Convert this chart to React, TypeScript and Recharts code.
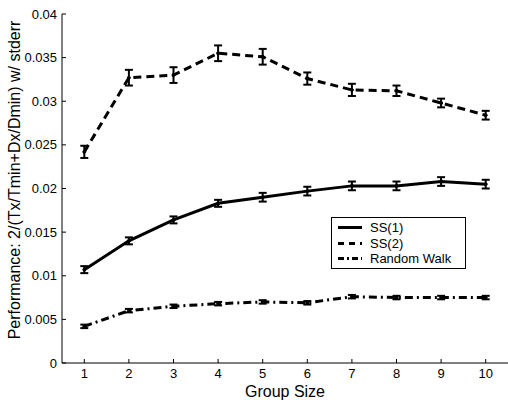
import { ErrorBar, Line, LineChart, XAxis, YAxis } from 'recharts';

const groups = [1, 2, 3, 4, 5, 6, 7, 8, 9, 10];
const ss1 = [0.0107, 0.014, 0.0164, 0.0183, 0.019, 0.0197, 0.0203, 0.0203, 0.0208, 0.0205];
const ss1Err = [0.0004, 0.0004, 0.0004, 0.0004, 0.0005, 0.0005, 0.0005, 0.0005, 0.0005, 0.0005];
const ss2 = [0.0242, 0.0327, 0.033, 0.0355, 0.0351, 0.0326, 0.0313, 0.0312, 0.0298, 0.0284];
const ss2Err = [0.0007, 0.0009, 0.0009, 0.0009, 0.0009, 0.0007, 0.0007, 0.0006, 0.0005, 0.0005];
const rw = [0.0042, 0.006, 0.0065, 0.0068, 0.007, 0.0069, 0.0076, 0.0075, 0.0075, 0.0075];
const rwErr = [0.0002, 0.0002, 0.0002, 0.0002, 0.0002, 0.0002, 0.0002, 0.0002, 0.0002, 0.0002];
const yTicks = [0, 0.005, 0.01, 0.015, 0.02, 0.025, 0.03, 0.035, 0.04];

const data = groups.map((g, i) => ({
  g,
  ss1: ss1[i],
  ss1Err: ss1Err[i],
  ss2: ss2[i],
  ss2Err: ss2Err[i],
  rw: rw[i],
  rwErr: rwErr[i],
}));

const FONT = '"Liberation Sans", Arial, sans-serif';
const tickStyle = { fill: '#000', fontSize: 13, fontFamily: FONT };
const dotStyle = { r: 1.5, fill: '#000', stroke: '#000', strokeWidth: 1, strokeDasharray: 'none' };

const legendItems = [
  { name: 'SS(1)', dash: undefined },
  { name: 'SS(2)', dash: '6 5' },
  { name: 'Random Walk', dash: '6 3 2 3' },
];

export default function App() {
  return (
    <div style={{ position: 'absolute', left: 0, top: 0, width: 508, height: 400, background: '#fff' }}>
      <LineChart width={508} height={400} data={data} margin={{ top: 14, right: 0, bottom: 0, left: 0 }}>
        <XAxis
          dataKey="g"
          type="number"
          domain={[0.5, 10.5]}
          ticks={groups}
          height={37}
          stroke="#000"
          tickSize={-4}
          tickMargin={10}
          tick={tickStyle}
          label={{
            value: 'Group Size',
            position: 'insideBottom',
            offset: 3,
            style: { fill: '#000', fontSize: 16, fontFamily: FONT },
          }}
        />
        <YAxis
          type="number"
          domain={[0, 0.04]}
          ticks={yTicks}
          width={62}
          stroke="#000"
          tickSize={-4}
          tickMargin={9}
          tick={tickStyle}
          label={{
            content: () => (
              <text
                x={20}
                y={180}
                transform="rotate(-90 20 180)"
                textAnchor="middle"
                fill="#000"
                fontSize={16}
                fontFamily={FONT}
              >
                Performance: 2/(Tx/Tmin+Dx/Dmin) w/ stderr
              </text>
            ),
          }}
        />
        <Line dataKey="ss1" stroke="#000" strokeWidth={3} dot={dotStyle} isAnimationActive={false}>
          <ErrorBar dataKey="ss1Err" direction="y" width={4} stroke="#000" strokeWidth={2} isAnimationActive={false} />
        </Line>
        <Line
          dataKey="ss2"
          stroke="#000"
          strokeWidth={3}
          strokeDasharray="8 5"
          dot={dotStyle}
          isAnimationActive={false}
        >
          <ErrorBar dataKey="ss2Err" direction="y" width={4} stroke="#000" strokeWidth={2} isAnimationActive={false} />
        </Line>
        <Line
          dataKey="rw"
          stroke="#000"
          strokeWidth={3}
          strokeDasharray="8 4 2 4"
          dot={dotStyle}
          isAnimationActive={false}
        >
          <ErrorBar dataKey="rwErr" direction="y" width={4} stroke="#000" strokeWidth={2} isAnimationActive={false} />
        </Line>
      </LineChart>
      <div
        style={{
          position: 'absolute',
          left: 331,
          top: 217,
          width: 135,
          height: 52,
          border: '1px solid #000',
          background: '#fff',
          fontFamily: FONT,
          fontSize: 13,
          padding: '2px 0 0 0',
          boxSizing: 'border-box',
        }}
      >
        {legendItems.map((it) => (
          <div key={it.name} style={{ display: 'flex', alignItems: 'center', height: 15.5 }}>
            <svg width={38} height={15}>
              <line x1={6} y1={7.5} x2={30} y2={7.5} stroke="#000" strokeWidth={3} strokeDasharray={it.dash} />
            </svg>
            <span>{it.name}</span>
          </div>
        ))}
      </div>
    </div>
  );
}
